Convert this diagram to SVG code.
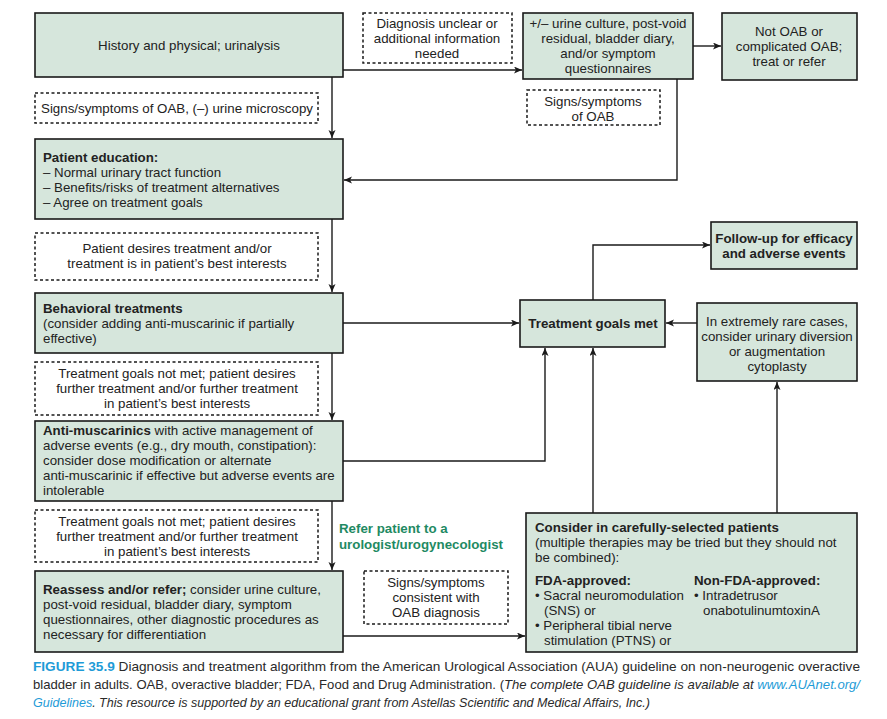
<svg xmlns="http://www.w3.org/2000/svg" width="887" height="719" viewBox="0 0 887 719">
<style>
.box{fill:#d6e6dc;stroke:#1a1a1a;stroke-width:1.6}
.dash{fill:#ffffff;stroke:#1a1a1a;stroke-width:1.5;stroke-dasharray:3 2.5}
.t{font-family:"Liberation Sans",Arial,sans-serif;font-size:13.3px;fill:#222}
.c{text-anchor:middle}
.b{font-weight:bold}
.g{fill:#1f8a63;font-weight:bold}
.cap{font-family:"Liberation Sans",Arial,sans-serif;font-size:13px;fill:#2a2a2a}
.blue{fill:#1e9bd7}
.conn path{fill:none;stroke:#1a1a1a;stroke-width:1.4}
</style>
<defs>
<marker id="ah" markerUnits="userSpaceOnUse" markerWidth="9" markerHeight="8" refX="8" refY="3.5" orient="auto">
<path d="M0,0 L8,3.5 L0,7 L2,3.5 z" fill="#1a1a1a"/>
</marker>
</defs>
<rect width="887" height="719" fill="#ffffff"/>

<g id="conns" class="conn">
<path d="M332,77 V138" marker-end="url(#ah)"/>
<path d="M343,70 H522" marker-end="url(#ah)"/>
<path d="M693,46 H721" marker-end="url(#ah)"/>
<path d="M677,79 V180 H344" marker-end="url(#ah)"/>
<path d="M332,219 V292" marker-end="url(#ah)"/>
<path d="M332,353 V420" marker-end="url(#ah)"/>
<path d="M343,323 H519" marker-end="url(#ah)"/>
<path d="M332,501 V570" marker-end="url(#ah)"/>
<path d="M343,461 H545 V348" marker-end="url(#ah)"/>
<path d="M593,513 V348" marker-end="url(#ah)"/>
<path d="M777,513 V382" marker-end="url(#ah)"/>
<path d="M697,323 H666" marker-end="url(#ah)"/>
<path d="M593,300 V245 H710" marker-end="url(#ah)"/>
<path d="M343,636 H525" marker-end="url(#ah)"/>
</g>

<g id="history">
<rect class="box" x="35" y="13" width="308" height="64"/>
<text class="t c" x="189" y="50">History and physical; urinalysis</text>
</g>
<g id="label-signs1">
<rect class="dash" x="35" y="93" width="283" height="30"/>
<text class="t c" x="177" y="113">Signs/symptoms of OAB, (–) urine microscopy</text>
</g>
<g id="label-diagnosis">
<rect class="dash" x="363" y="13" width="149" height="50"/>
<text class="t c" x="437" y="28">Diagnosis unclear or</text>
<text class="t c" x="437" y="43">additional information</text>
<text class="t c" x="437" y="58">needed</text>
</g>
<g id="culture">
<rect class="box" x="523" y="13" width="170" height="66"/>
<text class="t c" x="608" y="28">+/– urine culture, post-void</text>
<text class="t c" x="608" y="43">residual, bladder diary,</text>
<text class="t c" x="608" y="58">and/or symptom</text>
<text class="t c" x="608" y="73">questionnaires</text>
</g>
<g id="notoab">
<rect class="box" x="722" y="13" width="135" height="67"/>
<text class="t c" x="789" y="36">Not OAB or</text>
<text class="t c" x="789" y="51">complicated OAB;</text>
<text class="t c" x="789" y="66">treat or refer</text>
</g>
<g id="label-signs2">
<rect class="dash" x="527" y="90" width="133" height="35"/>
<text class="t c" x="593" y="106">Signs/symptoms</text>
<text class="t c" x="593" y="121">of OAB</text>
</g>
<g id="education">
<rect class="box" x="35" y="139" width="308" height="80"/>
<text class="t b" x="43" y="162">Patient education:</text>
<text class="t" x="43" y="177">– Normal urinary tract function</text>
<text class="t" x="43" y="192">– Benefits/risks of treatment alternatives</text>
<text class="t" x="43" y="207">– Agree on treatment goals</text>
</g>
<g id="label-desires">
<rect class="dash" x="35" y="233" width="283" height="47"/>
<text class="t c" x="177" y="253">Patient desires treatment and/or</text>
<text class="t c" x="177" y="268">treatment is in patient’s best interests</text>
</g>
<g id="behavioral">
<rect class="box" x="35" y="293" width="308" height="60"/>
<text class="t b" x="43" y="313">Behavioral treatments</text>
<text class="t" x="43" y="328">(consider adding anti-muscarinic if partially</text>
<text class="t" x="43" y="343">effective)</text>
</g>
<g id="label-notmet1">
<rect class="dash" x="35" y="362" width="283" height="53"/>
<text class="t c" x="177" y="378">Treatment goals not met; patient desires</text>
<text class="t c" x="177" y="393">further treatment and/or further treatment</text>
<text class="t c" x="177" y="408">in patient’s best interests</text>
</g>
<g id="antimuscarinics">
<rect class="box" x="35" y="421" width="308" height="80"/>
<text class="t" x="43" y="435"><tspan class="b">Anti-muscarinics</tspan> with active management of</text>
<text class="t" x="43" y="450">adverse events (e.g., dry mouth, constipation):</text>
<text class="t" x="43" y="465">consider dose modification or alternate</text>
<text class="t" x="43" y="480">anti-muscarinic if effective but adverse events are</text>
<text class="t" x="43" y="495">intolerable</text>
</g>
<g id="label-notmet2">
<rect class="dash" x="35" y="510" width="283" height="52"/>
<text class="t c" x="177" y="526">Treatment goals not met; patient desires</text>
<text class="t c" x="177" y="541">further treatment and/or further treatment</text>
<text class="t c" x="177" y="556">in patient’s best interests</text>
</g>
<g id="reassess">
<rect class="box" x="35" y="571" width="308" height="81"/>
<text class="t" x="43" y="594"><tspan class="b">Reassess and/or refer;</tspan> consider urine culture,</text>
<text class="t" x="43" y="609">post-void residual, bladder diary, symptom</text>
<text class="t" x="43" y="624">questionnaires, other diagnostic procedures as</text>
<text class="t" x="43" y="639">necessary for differentiation</text>
</g>
<g id="label-refer">
<text class="t g" x="339" y="533">Refer patient to a</text>
<text class="t g" x="339" y="549">urologist/urogynecologist</text>
</g>
<g id="label-consistent">
<rect class="dash" x="364" y="571" width="144" height="53"/>
<text class="t c" x="436" y="587">Signs/symptoms</text>
<text class="t c" x="436" y="602">consistent with</text>
<text class="t c" x="436" y="617">OAB diagnosis</text>
</g>
<g id="goalsmet">
<rect class="box" x="520" y="300" width="145" height="47"/>
<text class="t c b" x="593" y="328">Treatment goals met</text>
</g>
<g id="followup">
<rect class="box" x="711" y="222" width="146" height="47"/>
<text class="t c b" x="784" y="243">Follow-up for efficacy</text>
<text class="t c b" x="784" y="258">and adverse events</text>
</g>
<g id="rarecases">
<rect class="box" x="697" y="303" width="160" height="78"/>
<text class="t c" x="777" y="326">In extremely rare cases,</text>
<text class="t c" x="777" y="341">consider urinary diversion</text>
<text class="t c" x="777" y="356">or augmentation</text>
<text class="t c" x="777" y="371">cytoplasty</text>
</g>
<g id="consider">
<rect class="box" x="526" y="513" width="331" height="139"/>
<text class="t b" x="535" y="532">Consider in carefully-selected patients</text>
<text class="t" x="535" y="547">(multiple therapies may be tried but they should not</text>
<text class="t" x="535" y="562">be combined):</text>
<text class="t b" x="535" y="585">FDA-approved:</text>
<text class="t" x="535" y="600">• Sacral neuromodulation</text>
<text class="t" x="544" y="615">(SNS) or</text>
<text class="t" x="535" y="630">• Peripheral tibial nerve</text>
<text class="t" x="544" y="645">stimulation (PTNS) or</text>
<text class="t b" x="694" y="585">Non-FDA-approved:</text>
<text class="t" x="694" y="600">• Intradetrusor</text>
<text class="t" x="703" y="615">onabotulinumtoxinA</text>
</g>

<g id="caption">
<text class="cap" x="33" y="671" textLength="827" lengthAdjust="spacingAndGlyphs"><tspan class="blue" font-weight="bold">FIGURE 35.9</tspan> Diagnosis and treatment algorithm from the American Urological Association (AUA) guideline on non-neurogenic overactive</text>
<text class="cap" x="33" y="689" textLength="827" lengthAdjust="spacingAndGlyphs">bladder in adults. OAB, overactive bladder; FDA, Food and Drug Administration. (<tspan font-style="italic">The complete OAB guideline is available at </tspan><tspan font-style="italic" class="blue">www.AUAnet.org/</tspan></text>
<text class="cap" x="33" y="707" textLength="617" lengthAdjust="spacingAndGlyphs" font-style="italic"><tspan class="blue">Guidelines</tspan>. This resource is supported by an educational grant from Astellas Scientific and Medical Affairs, Inc.)</text>
</g>
</svg>
